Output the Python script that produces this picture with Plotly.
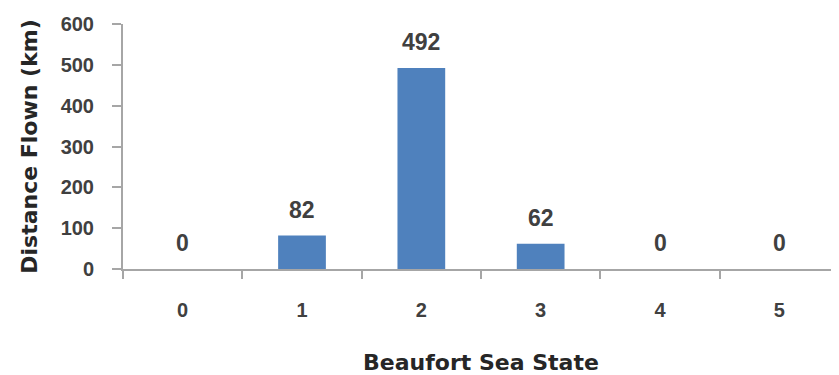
import plotly.graph_objects as go

sea_state = ["0", "1", "2", "3", "4", "5"]
distance_km = [0, 82, 492, 62, 0, 0]
y_ticks = [0, 100, 200, 300, 400, 500, 600]

bar_color = "#4F81BD"
text_color = "#404040"
axis_color = "#A6A6A6"
num_font = "Liberation Sans, Arial"
title_font = "DejaVu Sans"

fig = go.Figure()
fig.add_trace(go.Bar(x=sea_state, y=distance_km,
                     marker=dict(color=bar_color, line=dict(width=0)),
                     width=0.4))

for s, d in zip(sea_state, distance_km):
    fig.add_annotation(x=s, y=d, text=str(d), showarrow=False,
                       yanchor="bottom", yshift=11,
                       font=dict(family=num_font, size=23, color=text_color, weight="bold"))

# page body has an 8px margin, so the figure is sized to fit inside the window
fig.update_layout(
    width=831, height=367,
    margin=dict(l=115, r=0, t=16, b=106),
    plot_bgcolor="white", paper_bgcolor="white",
    showlegend=False,
    font=dict(family=num_font, size=20, color=text_color, weight="bold"),
)
fig.update_yaxes(range=[0, 600], tickvals=y_ticks, showgrid=False, zeroline=False,
                 automargin=False,
                 showline=True, linecolor=axis_color, linewidth=2,
                 ticks="outside", ticklen=9, tickcolor=axis_color, tickwidth=2,
                 ticklabelstandoff=14,
                 title=dict(text="Distance Flown (km)", standoff=17,
                            font=dict(family=title_font, size=22, weight="bold", color="#262626")))
fig.update_xaxes(showgrid=False, zeroline=False, showline=True, linecolor=axis_color, linewidth=2,
                 automargin=False,
                 ticks="outside", tickson="boundaries", ticklen=8, tickcolor=axis_color, tickwidth=2,
                 ticklabelstandoff=22,
                 title=dict(text="Beaufort Sea State", standoff=37,
                            font=dict(family=title_font, size=22, weight="bold", color="#262626")))

fig.write_html("out.html")
